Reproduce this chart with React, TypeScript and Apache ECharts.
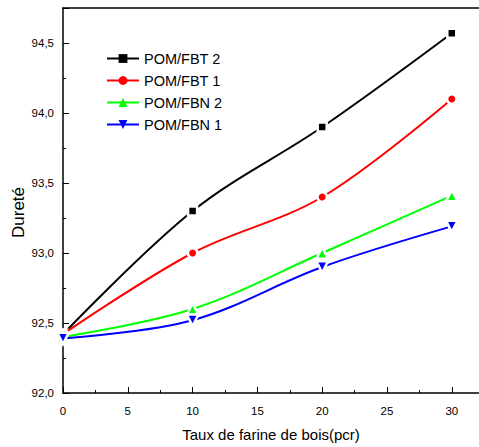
import React, { useEffect, useRef } from "react";
import * as echarts from "echarts";

const xValues = [0, 10, 20, 30];
const seriesNames = ["POM/FBT 2", "POM/FBT 1", "POM/FBN 2", "POM/FBN 1"];
const fbt2 = [92.42, 93.3, 93.9, 94.57];
const fbt1 = [92.42, 93.0, 93.4, 94.1];
const fbn2 = [92.4, 92.6, 93.0, 93.41];
const fbn1 = [92.39, 92.52, 92.9, 93.19];
const colors = ["#000000", "#ff0000", "#00ff00", "#0000ff"];
const symbols = ["rect", "circle", "triangle", "triangle"];
const symbolRotates = [0, 0, 0, 180];
const symbolSizes = [9, 9.5, 11.5, 11.5];

export default function App() {
  const ref = useRef<HTMLDivElement>(null);
  useEffect(() => {
    const chart = echarts.init(ref.current!, null, { renderer: "svg" });
    const all = [fbt2, fbt1, fbn2, fbn1];
    const font = "'Liberation Sans', Arial, sans-serif";
    chart.setOption({
      animation: false,
      grid: {
        left: 63,
        top: 8,
        right: 0,
        bottom: 54,
        outerBoundsMode: "none",
      },
      legend: {
        left: 106,
        top: 51,
        padding: 0,
        orient: "vertical",
        itemWidth: 32,
        itemHeight: 11,
        itemGap: 7,
        itemStyle: { borderWidth: 0 },
        textStyle: { fontFamily: font, fontSize: 14.5, color: "#000" },
        data: seriesNames,
      },
      xAxis: [
        {
          type: "value",
          min: 0,
          max: 32.1,
          interval: 5,
          name: "Taux de farine de bois(pcr)",
          nameLocation: "middle",
          nameGap: 34,
          nameMoveOverlap: false,
          nameTextStyle: { fontFamily: font, fontSize: 15, color: "#000" },
          axisLine: { show: true, lineStyle: { color: "#000", width: 1.5 } },
          axisTick: { show: true, inside: true, length: 6, lineStyle: { color: "#000" } },
          minorTick: { show: true, splitNumber: 2, length: 3, lineStyle: { color: "#000" } },
          splitLine: { show: false },
          axisLabel: { fontFamily: font, fontSize: 11.5, color: "#000", margin: 12, showMaxLabel: false },
        },
        {
          type: "value",
          position: "top",
          min: 0,
          max: 32.1,
          axisLine: { show: true, lineStyle: { color: "#000", width: 1.5 } },
          axisTick: { show: false },
          axisLabel: { show: false },
          splitLine: { show: false },
        },
      ],
      yAxis: {
        type: "value",
        min: 92,
        max: 94.75,
        interval: 0.5,
        name: "Dureté",
        nameLocation: "middle",
        nameGap: 36,
        nameMoveOverlap: false,
        nameTextStyle: { fontFamily: font, fontSize: 17, color: "#000", padding: [0, 24, 0, 0] },
        axisLine: { show: true, lineStyle: { color: "#000", width: 1.5 } },
        axisTick: { show: true, inside: true, length: 6, lineStyle: { color: "#000" } },
        minorTick: { show: true, splitNumber: 2, length: 3, lineStyle: { color: "#000" } },
        splitLine: { show: false },
        axisLabel: {
          fontFamily: font,
          fontSize: 11.5,
          color: "#000",
          margin: 9,
          showMaxLabel: false,
          formatter: (v: number) => v.toFixed(1).replace(".", ","),
        },
      },
      series: seriesNames.map((name, i) => ({
        name,
        type: "line",
        smooth: 0.35,
        xAxisIndex: 0,
        data: xValues.map((x, j) => [x, all[i][j]]),
        symbol: symbols[i],
        symbolRotate: symbolRotates[i],
        symbolSize: symbolSizes[i],
        showAllSymbol: true,
        lineStyle: { color: colors[i], width: 2 },
        itemStyle: { color: colors[i], borderColor: "#fff", borderWidth: 2.5 },
        z: 3 + i,
      })),
    });
    return () => chart.dispose();
  }, []);
  return (
    <div
      ref={ref}
      style={{ position: "absolute", left: 0, top: 0, width: 479, height: 447 }}
    />
  );
}
